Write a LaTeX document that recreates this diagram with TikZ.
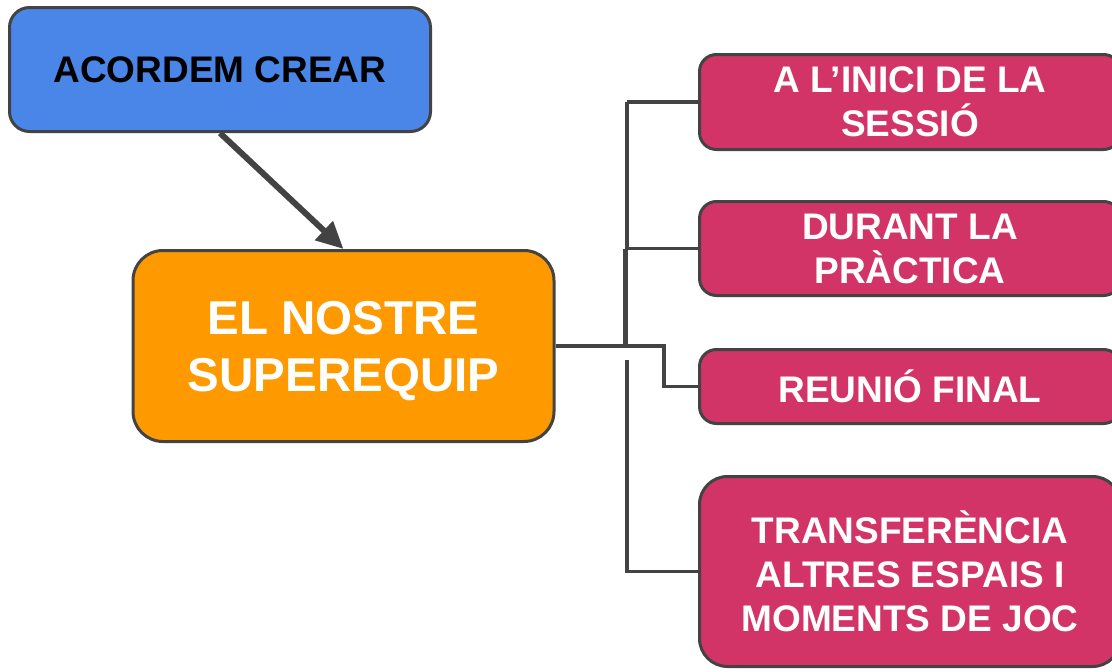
\documentclass[tikz,border=0pt]{standalone}
\usepackage{fontspec}
\setmainfont{Liberation Sans}
\usetikzlibrary{arrows.meta,calc,positioning}
\definecolor{vora}{HTML}{434343}
\definecolor{blau}{HTML}{4A86E8}
\definecolor{taronja}{HTML}{FF9900}
\definecolor{rosa}{HTML}{D33467}

\begin{document}
\begin{tikzpicture}[x=1pt,y=-1pt,
    caixa/.style={draw=vora, line width=3pt, align=center, minimum width=421pt,
      font=\bfseries\fontsize{37}{44}\selectfont},
    moment/.style={caixa, fill=rosa, text=white, rounded corners=17pt},
    conn/.style={draw=vora, line width=3.2pt},
    fletxa/.style={draw=vora, line width=6pt, -{Triangle[length=27pt,width=25pt]}}]
        \useasboundingbox (0,0) rectangle (1112,672);
        \clip (0,0) rectangle (1112,672);

        % Main boxes
        \node[caixa, fill=blau, rounded corners=20pt, minimum height=124pt] (acordem) at (220,69.5) {ACORDEM CREAR};
        \node[caixa, fill=taronja, text=white, rounded corners=30pt, minimum height=191pt, text depth=0pt,
          font=\bfseries\fontsize{47.5}{57}\selectfont] (equip) at (343.5,346) {EL NOSTRE\\SUPEREQUIP};

        % Moments
        \node[moment, minimum height=95pt] (inici) at (910,102) {A L’INICI DE LA\\SESSIÓ};
        \node[moment, minimum height=94pt] (durant) at (910,248.5) {DURANT LA\\PRÀCTICA};
        \node[moment, minimum height=74pt] (reunio) at (910,386.5) {REUNIÓ FINAL};
        \node[moment, rounded corners=28pt, minimum height=190pt] (transf) at (910,571.5) {TRANSFERÈNCIA\\ALTRES ESPAIS I\\MOMENTS DE JOC};

        % Arrow
        \draw[fletxa] (acordem.south) -- (equip.north);

        % Branches
        \coordinate (tronc) at (627,346);
        \coordinate (colze) at (664,346);
        \draw[conn] (equip.east) -- (tronc);
        \draw[conn] (tronc |- inici.west) -- (tronc |- durant.west) -- (durant.west);
        \draw[conn] (tronc |- inici.west) -- (inici.west);
        \draw[conn, line width=5pt] ($(tronc |- durant.west)+(-1.5,0)$) -- ($(tronc)+(-1.5,0)$);
        \draw[conn] (tronc) -- (colze) |- (reunio.west);
        \draw[conn] ($(tronc)+(0,14)$) -- (tronc |- transf.west) -- (transf.west);
      \end{tikzpicture}
\end{document}
